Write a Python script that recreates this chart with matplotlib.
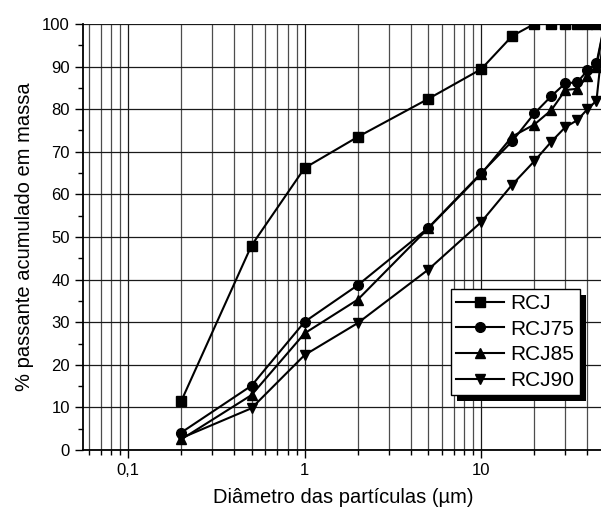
import matplotlib
matplotlib.use('Agg')
import matplotlib.pyplot as plt
import matplotlib.ticker as ticker
from matplotlib.patches import Rectangle

plt.rcParams['font.family'] = ['Liberation Sans', 'DejaVu Sans']

# particle diameter (um) and cumulative passing (%)
diam = [0.2, 0.5, 1, 2, 5, 10, 15, 20, 25, 30, 35, 40, 45, 50]
rcj = [11.5, 48, 66.2, 73.5, 82.4, 89.4, 97.2, 100, 100, 100, 100, 100, 100, 100]
rcj75 = [4.1, 15.1, 30.1, 38.7, 52.1, 65.0, 72.5, 79.0, 83.1, 86.1, 86.3, 89.1, 90.8, 100]
rcj85 = [2.5, 12.9, 27.4, 35.3, 52.0, 64.8, 73.6, 76.4, 79.8, 84.5, 84.8, 87.7, 90.0, 100]
rcj90 = [2.8, 9.8, 22.3, 29.8, 42.3, 53.5, 62.3, 67.8, 72.4, 75.8, 77.4, 80.0, 82.0, 100]

series = [('RCJ', rcj, 's'), ('RCJ75', rcj75, 'o'), ('RCJ85', rcj85, '^'), ('RCJ90', rcj90, 'v')]

fig = plt.figure(figsize=(6.01, 5.15), dpi=100)
ax = fig.add_axes([83 / 601, 65 / 515, 520 / 601, 426 / 515])

for name, vals, mk in series:
    ax.plot(diam, vals, color='black', lw=1.5, marker=mk, ms=7, label=name, clip_on=True, zorder=3)

ax.set_xscale('log')
ax.set_xlim(0.0555, 49)
ax.set_ylim(0, 100)

ax.xaxis.set_major_locator(ticker.FixedLocator([0.1, 1, 10]))
ax.xaxis.set_major_formatter(ticker.FixedFormatter(['0,1', '1', '10']))
ax.xaxis.set_minor_locator(ticker.LogLocator(base=10, subs=[2, 3, 4, 5, 6, 7, 8, 9]))
ax.xaxis.set_minor_formatter(ticker.NullFormatter())
ax.yaxis.set_major_locator(ticker.MultipleLocator(10))
ax.yaxis.set_minor_locator(ticker.MultipleLocator(5))

ax.grid(which='major', axis='both', color='0.1', lw=0.9)
ax.grid(which='minor', axis='x', color='0.3', lw=0.9)
ax.set_axisbelow(True)

ax.tick_params(which='major', direction='out', length=6, width=1, labelsize=12, colors='black')
ax.tick_params(which='minor', direction='out', length=3.5, width=1)
for side in ['top', 'right']:
    ax.spines[side].set_visible(False)
for side in ['left', 'bottom']:
    ax.spines[side].set_linewidth(1.3)

ax.set_xlabel('Diâmetro das partículas (µm)', fontsize=14.5, labelpad=7)
ax.set_ylabel('% passante acumulado em massa', fontsize=14.5, labelpad=6)

leg = ax.legend(loc='lower right', bbox_to_anchor=(0.955, 0.129), borderaxespad=0,
                fontsize=15, numpoints=1, handlelength=2.3, handletextpad=0.3,
                labelspacing=0.32, borderpad=0.25, fancybox=False, framealpha=1,
                edgecolor='black')
leg.get_frame().set_linewidth(1)
leg.set_zorder(10)

# solid drop shadow behind the legend box
fig.canvas.draw()
bb = leg.get_window_extent()
shadow = Rectangle((bb.x0 + 6, bb.y0 - 6), bb.width, bb.height, transform=None,
                   facecolor='black', edgecolor='none', zorder=9)
ax.add_artist(shadow)

fig.savefig('out.png', dpi=100)
